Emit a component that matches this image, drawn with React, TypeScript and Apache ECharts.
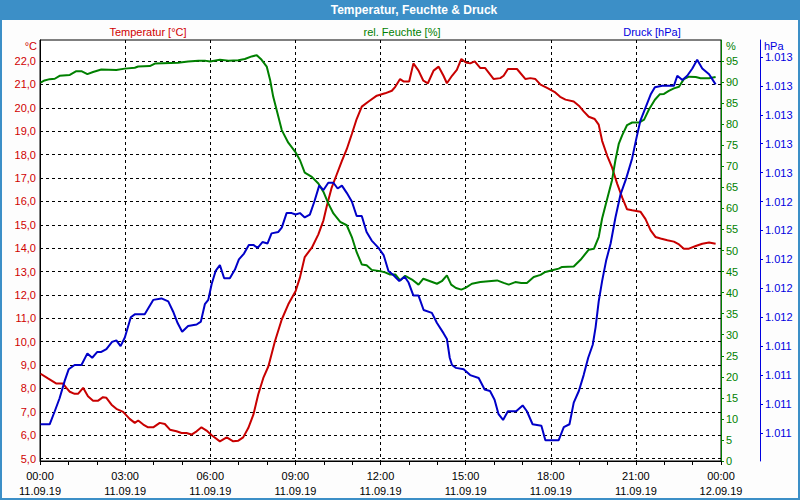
import React, { useEffect, useRef } from "react";
import * as echarts from "echarts";

// ---- data (hours since 11.09.19 00:00) ----
const tempHours = [0.02,0.28,0.58,0.81,0.93,1.05,1.22,1.34,1.52,1.69,1.87,2.05,2.22,2.34,2.52,2.69,2.93,3.16,3.34,3.46,3.64,3.81,3.99,4.22,4.4,4.58,4.81,4.99,5.16,5.34,5.52,5.69,5.87,6.05,6.34,6.58,6.81,6.99,7.16,7.34,7.52,7.69,7.87,8.05,8.28,8.52,8.75,9.01,9.16,9.33,9.58,9.81,9.99,10.11,10.28,10.46,10.64,10.81,10.99,11.16,11.34,11.58,11.87,12.16,12.4,12.52,12.69,12.81,13.01,13.16,13.34,13.51,13.67,13.87,14.05,14.22,14.34,14.52,14.69,14.85,15.01,15.16,15.32,15.52,15.69,15.99,16.22,16.34,16.49,16.81,17.11,17.28,17.46,17.64,17.87,18.16,18.33,18.52,18.81,18.99,19.16,19.34,19.55,19.69,19.81,19.99,20.16,20.34,20.52,20.69,20.87,21.16,21.34,21.52,21.69,21.87,22.11,22.34,22.52,22.69,22.87,23.11,23.34,23.58,23.81];
const tempValues = [8.63,8.43,8.21,8.21,8.03,7.86,7.77,7.77,8.03,7.67,7.48,7.48,7.63,7.6,7.31,7.13,7.0,6.7,6.53,6.63,6.46,6.34,6.34,6.53,6.48,6.24,6.17,6.1,6.1,6.03,6.17,6.34,6.2,6.0,5.74,5.91,5.74,5.77,5.91,6.31,6.88,7.74,8.45,8.95,10.02,10.95,11.6,12.17,12.74,13.62,14.02,14.59,15.19,15.81,16.59,17.16,17.73,18.23,18.88,19.52,20.05,20.27,20.52,20.62,20.73,20.9,21.23,21.13,21.13,21.9,21.59,21.16,21.05,21.59,21.76,21.37,21.05,21.37,21.62,22.09,21.94,21.9,21.99,21.7,21.7,21.23,21.27,21.37,21.66,21.66,21.23,21.27,21.23,20.99,20.85,20.66,20.47,20.35,20.27,20.09,19.85,19.62,19.52,19.28,18.59,17.95,17.45,16.76,16.16,15.66,15.62,15.56,15.24,14.76,14.48,14.41,14.34,14.28,14.16,13.98,13.98,14.09,14.19,14.24,14.19];

const humHours = [0.02,0.16,0.34,0.52,0.69,1.05,1.28,1.46,1.67,1.87,2.16,2.69,2.99,3.34,3.46,3.87,4.05,4.87,5.22,5.58,5.81,5.99,6.34,6.64,6.99,7.22,7.46,7.64,7.81,7.99,8.11,8.22,8.34,8.52,8.75,8.99,9.16,9.33,9.58,9.81,9.99,10.16,10.34,10.58,10.81,10.99,11.16,11.34,11.51,11.69,11.99,12.16,12.34,12.52,12.69,12.87,13.11,13.34,13.51,13.75,13.99,14.16,14.34,14.49,14.66,14.85,15.01,15.22,15.52,15.81,16.11,16.34,16.52,16.75,16.96,17.16,17.4,17.64,17.81,18.05,18.28,18.4,18.81,19.05,19.34,19.52,19.69,19.81,19.99,20.16,20.28,20.4,20.52,20.69,20.87,21.11,21.29,21.46,21.67,21.84,21.99,22.16,22.34,22.52,22.69,22.87,23.11,23.28,23.58,23.81];
const humValues = [89.9,90.4,90.7,90.8,91.5,91.7,92.6,92.6,91.9,92.4,93.0,92.9,93.2,93.4,93.7,93.8,94.4,94.6,94.9,95.1,95.1,94.9,95.3,95.1,95.2,95.5,96.1,96.4,95.3,93.7,90.5,86.5,83.4,78.6,75.6,73.5,71.5,68.5,67.5,65.9,63.9,61.2,58.8,56.8,56.0,53.2,49.6,46.7,46.5,45.4,45.1,44.8,44.3,44.3,42.9,44.0,43.1,41.9,43.3,42.7,42.1,42.7,44.1,41.9,41.1,40.7,41.2,42.1,42.5,42.7,42.9,42.3,41.9,42.5,42.3,42.3,43.7,44.2,44.9,45.3,45.7,46.1,46.2,47.8,50.2,50.4,53.2,57.6,62.3,66.7,71.5,75.4,77.4,79.8,80.4,80.4,81.1,83.5,85.8,87.1,87.2,87.9,88.5,88.9,90.7,91.3,91.2,90.9,90.9,91.2];

const pressHours = [0.02,0.34,0.52,0.69,0.87,1.01,1.22,1.46,1.67,1.84,2.02,2.16,2.34,2.54,2.69,2.84,2.99,3.2,3.34,3.69,3.99,4.28,4.52,4.69,4.85,5.01,5.22,5.52,5.67,5.81,5.93,6.05,6.19,6.34,6.49,6.69,6.87,7.01,7.19,7.36,7.52,7.67,7.84,8.02,8.16,8.4,8.52,8.69,8.87,9.01,9.16,9.33,9.51,9.67,9.84,9.99,10.16,10.34,10.49,10.64,10.81,10.99,11.16,11.34,11.51,11.69,11.93,12.11,12.28,12.46,12.66,12.85,12.99,13.16,13.34,13.52,13.81,13.99,14.22,14.34,14.44,14.52,14.66,14.93,15.16,15.46,15.67,15.86,16.02,16.16,16.32,16.49,16.78,17.01,17.16,17.36,17.67,17.81,18.05,18.28,18.46,18.66,18.81,18.99,19.16,19.32,19.48,19.58,19.69,19.81,19.95,20.11,20.28,20.46,20.66,20.87,21.01,21.16,21.34,21.52,21.67,21.93,22.34,22.46,22.64,22.81,22.99,23.16,23.34,23.58,23.81];
const pressValues = [1010.86,1010.86,1010.95,1011.04,1011.16,1011.24,1011.27,1011.27,1011.35,1011.32,1011.36,1011.36,1011.38,1011.43,1011.44,1011.40,1011.46,1011.60,1011.62,1011.62,1011.72,1011.73,1011.71,1011.64,1011.56,1011.50,1011.54,1011.55,1011.57,1011.69,1011.72,1011.83,1011.92,1011.96,1011.87,1011.87,1011.93,1012.00,1012.04,1012.10,1012.10,1012.08,1012.12,1012.11,1012.18,1012.19,1012.22,1012.32,1012.32,1012.31,1012.32,1012.29,1012.31,1012.40,1012.51,1012.48,1012.53,1012.53,1012.49,1012.51,1012.46,1012.40,1012.30,1012.30,1012.19,1012.13,1012.08,1012.03,1011.92,1011.89,1011.85,1011.88,1011.84,1011.75,1011.75,1011.65,1011.63,1011.56,1011.49,1011.45,1011.32,1011.27,1011.25,1011.24,1011.20,1011.18,1011.10,1011.09,1011.03,1010.93,1010.89,1010.95,1010.95,1010.99,1010.95,1010.86,1010.85,1010.75,1010.75,1010.75,1010.84,1010.86,1011.01,1011.09,1011.20,1011.32,1011.41,1011.53,1011.71,1011.85,1011.99,1012.11,1012.29,1012.45,1012.56,1012.70,1012.83,1012.96,1013.05,1013.14,1013.19,1013.20,1013.20,1013.27,1013.24,1013.27,1013.32,1013.38,1013.32,1013.28,1013.21];

// tick values
const tempTicks = [5,6,7,8,9,10,11,12,13,14,15,16,17,18,19,20,21,22];
const humTicks = [0,5,10,15,20,25,30,35,40,45,50,55,60,65,70,75,80,85,90,95];
const pressTicks = [1010.8,1011.0,1011.2,1011.4,1011.6,1011.8,1012.0,1012.2,1012.4,1012.6,1012.8,1013.0,1013.2,1013.4];
const dayLabels = ["11.09.19", "12.09.19"];

const FONT = "Liberation Sans";
const RED = "#c80000";
const GREEN = "#008000";
const BLUE = "#0000c8";

export default function App() {
  const ref = useRef<HTMLDivElement>(null);
  useEffect(() => {
    if (!ref.current) return;
    const chart = echarts.init(ref.current, null, { renderer: "svg" });
    const pair = (xs: number[], ys: number[]) => xs.map((x, i) => [x, ys[i]]);
    const dash = { color: "#000", type: [3, 3] as any, width: 1 };
    chart.setOption({
      animation: false,
      backgroundColor: "#fdfdfd",
      textStyle: { fontFamily: FONT, fontSize: 11 },
      grid: {
        left: 40, right: 79, top: 40, bottom: 39,
        show: true, borderColor: "#000", borderWidth: 1, backgroundColor: "#ffffff",
      },
      xAxis: {
        type: "value", min: 0, max: 24, interval: 3,
        axisLine: { show: true, lineStyle: { color: "#000", width: 1 } },
        axisTick: { show: true, length: 4, lineStyle: { color: "#000" } },
        minorTick: { show: true, splitNumber: 3, length: 4, lineStyle: { color: "#000" } },
        splitLine: { show: true, lineStyle: dash },
        axisLabel: {
          color: "#000", fontFamily: FONT, fontSize: 11, lineHeight: 15, margin: 7,
          formatter: (v: number) => {
            const h = Math.round(v) % 24;
            const d = v >= 24 ? dayLabels[1] : dayLabels[0];
            return (h < 10 ? "0" + h : "" + h) + ":00\n" + d;
          },
        },
      },
      yAxis: [
        {
          type: "value", position: "left", min: 4.9, max: 22.9,
          axisLine: { show: true, lineStyle: { color: "#000" } },
          axisTick: { show: false, customValues: tempTicks },
          splitLine: { show: true, lineStyle: dash },
          axisLabel: {
            customValues: tempTicks, color: "#d00000", fontFamily: FONT, fontSize: 11, margin: 4,
            formatter: (v: number) => v.toFixed(1).replace(".", ","),
          },
        },
        {
          type: "value", position: "right", min: 0, max: 100,
          axisLine: { show: true, lineStyle: { color: GREEN, width: 1 } },
          axisTick: { show: true, length: 3, customValues: humTicks, lineStyle: { color: GREEN } },
          splitLine: { show: false },
          axisLabel: { customValues: humTicks, color: GREEN, fontFamily: FONT, fontSize: 11, margin: 5 },
        },
        {
          type: "value", position: "right", offset: 39, min: 1010.606, max: 1013.517,
          axisLine: { show: true, lineStyle: { color: "#0000e0", width: 1 } },
          axisTick: { show: true, length: 3, customValues: pressTicks, lineStyle: { color: "#0000e0" } },
          splitLine: { show: false },
          axisLabel: {
            customValues: pressTicks, color: "#0000e0", fontFamily: FONT, fontSize: 11, margin: 5,
            formatter: (v: number) => (Math.round(v) / 1000).toFixed(3),
          },
        },
      ],
      series: [
        {
          name: "Temperatur", type: "line", yAxisIndex: 0, showSymbol: false,
          lineStyle: { color: RED, width: 2 }, itemStyle: { color: RED },
          data: pair(tempHours, tempValues),
        },
        {
          name: "rel. Feuchte", type: "line", yAxisIndex: 1, showSymbol: false,
          lineStyle: { color: GREEN, width: 2 }, itemStyle: { color: GREEN },
          data: pair(humHours, humValues),
        },
        {
          name: "Druck", type: "line", yAxisIndex: 2, showSymbol: false,
          lineStyle: { color: BLUE, width: 2 }, itemStyle: { color: BLUE },
          data: pair(pressHours, pressValues),
        },
      ],
      graphic: [
        { type: "rect", shape: { x: 0, y: 0, width: 800, height: 20 }, style: { fill: "#3c8fc7" }, z: 10 },
        { type: "rect", shape: { x: 1, y: 1, width: 798, height: 498 }, style: { fill: "none", stroke: "#3c8fc7", lineWidth: 2 }, z: 10 },
        { type: "text", x: 414, y: 10, z: 11, style: { text: "Temperatur, Feuchte & Druck", fill: "#fff", font: `bold 12px "${FONT}"`, align: "center", verticalAlign: "middle" } },
        { type: "text", x: 148, y: 32, z: 11, style: { text: "Temperatur [°C]", fill: "#d00000", font: `11px "${FONT}"`, align: "center", verticalAlign: "middle" } },
        { type: "text", x: 402, y: 32, z: 11, style: { text: "rel. Feuchte [%]", fill: GREEN, font: `11px "${FONT}"`, align: "center", verticalAlign: "middle" } },
        { type: "text", x: 652, y: 32, z: 11, style: { text: "Druck [hPa]", fill: "#0000e0", font: `11px "${FONT}"`, align: "center", verticalAlign: "middle" } },
        { type: "text", x: 37, y: 46, z: 11, style: { text: "°C", fill: "#d00000", font: `11px "${FONT}"`, align: "right", verticalAlign: "middle" } },
        { type: "text", x: 726, y: 46, z: 11, style: { text: "%", fill: GREEN, font: `11px "${FONT}"`, align: "left", verticalAlign: "middle" } },
        { type: "text", x: 764, y: 46, z: 11, style: { text: "hPa", fill: "#0000e0", font: `11px "${FONT}"`, align: "left", verticalAlign: "middle" } },
      ],
    });
    return () => chart.dispose();
  }, []);
  return (
    <div
      ref={ref}
      style={{ position: "fixed", left: 0, top: 0, width: 800, height: 500 }}
    />
  );
}
